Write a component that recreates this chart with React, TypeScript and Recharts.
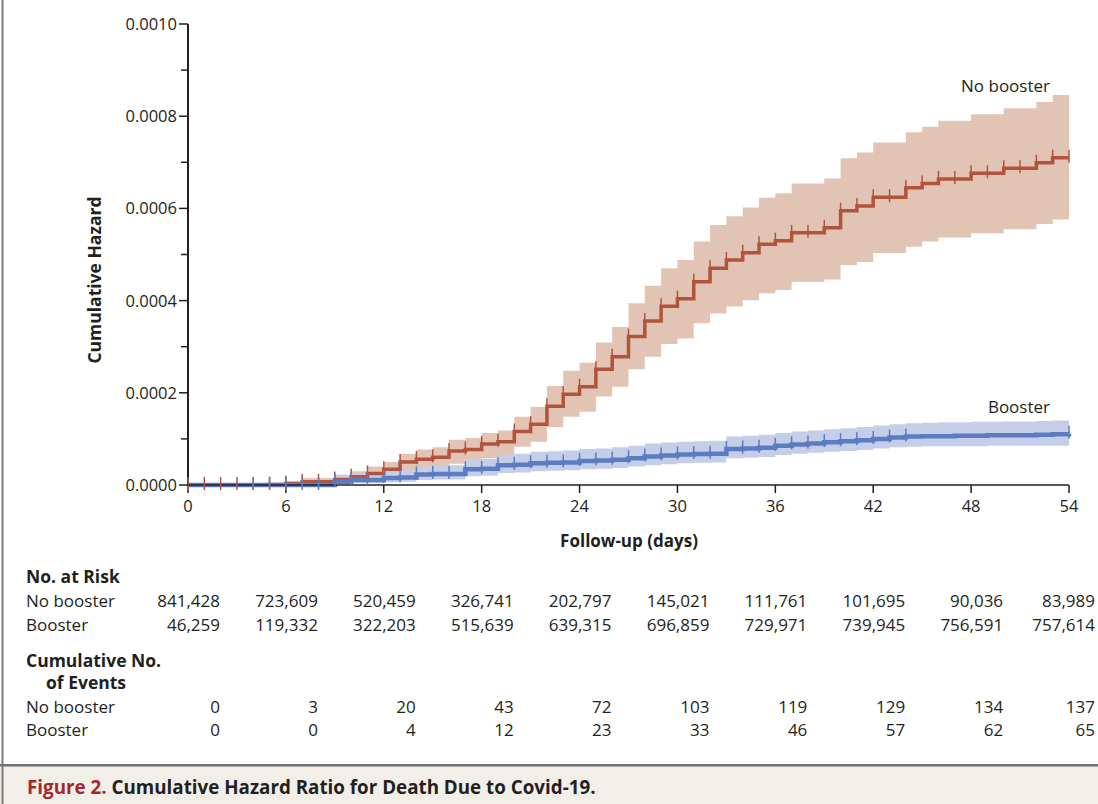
import React from "react";
import { ComposedChart, Area, Line, XAxis, YAxis } from "recharts";

// follow-up day of each step
const days = [
  0, 1, 2, 3, 4, 5, 6, 7, 8, 9, 10, 11, 12, 13, 14, 15, 16, 17, 18, 19, 20, 21, 22, 23, 24, 25, 26, 27,
  28, 29, 30, 31, 32, 33, 34, 35, 36, 37, 38, 39, 40, 41, 42, 43, 44, 45, 46, 47, 48, 49, 50, 51, 52, 53, 54,
];

const noBooster = [
  0, 0, 0, 0, 0, 0.000001, 0.000003, 0.000007, 0.000007, 0.000012, 0.000018, 0.000025, 0.000034, 0.00005,
  0.000056, 0.00006, 0.000074, 0.000077, 0.000089, 0.000094, 0.000116, 0.000132, 0.000171, 0.000197,
  0.000213, 0.000251, 0.000278, 0.000322, 0.000356, 0.000388, 0.000404, 0.000441, 0.00047, 0.000488,
  0.000504, 0.000522, 0.00053, 0.000547, 0.000547, 0.000558, 0.000595, 0.000605, 0.000624, 0.000624,
  0.000645, 0.000654, 0.000664, 0.000664, 0.000676, 0.000676, 0.000687, 0.000687, 0.000699, 0.00071, 0.00071,
];
const noBoosterLower = [
  0, 0, 0, 0, 0, 0, 0, 0, 0, 0.000002, 0.000005, 0.00001, 0.000016, 0.000028, 0.000032, 0.000035, 0.000046,
  0.000048, 0.000058, 0.000063, 0.000083, 0.000094, 0.000126, 0.000148, 0.000159, 0.000192, 0.000213,
  0.000251, 0.000278, 0.000306, 0.000318, 0.000351, 0.000372, 0.000387, 0.000401, 0.000416, 0.000423,
  0.000441, 0.000441, 0.000446, 0.000477, 0.000484, 0.000503, 0.000503, 0.000517, 0.000528, 0.000537,
  0.000537, 0.000546, 0.000546, 0.000555, 0.000555, 0.000566, 0.000576, 0.000576,
];
const noBoosterUpper = [
  0, 0, 0, 0, 0, 0.000003, 0.000008, 0.000015, 0.000015, 0.000022, 0.00003, 0.00004, 0.00005, 0.000068,
  0.000077, 0.000082, 0.000098, 0.000102, 0.000113, 0.000118, 0.000148, 0.000169, 0.000215, 0.000248,
  0.000265, 0.000309, 0.000343, 0.000394, 0.000432, 0.00047, 0.000488, 0.000528, 0.000564, 0.000583,
  0.000602, 0.000623, 0.000633, 0.000654, 0.000654, 0.000665, 0.000709, 0.000721, 0.000743, 0.000743,
  0.000765, 0.000777, 0.00079, 0.00079, 0.000804, 0.000804, 0.000817, 0.000817, 0.000831, 0.000846, 0.000846,
];

const booster = [
  0, 0, 0, 0, 0, 0, 0, 0, 0, 0.000007, 0.000011, 0.000011, 0.000015, 0.000016, 0.000023, 0.000024,
  0.000024, 0.000034, 0.000035, 0.000043, 0.000044, 0.000047, 0.000048, 0.000049, 0.000052, 0.000053,
  0.000055, 0.000058, 0.000062, 0.000064, 0.000066, 0.000067, 0.000068, 0.000078, 0.000079, 0.000081,
  0.000085, 0.000088, 0.00009, 0.000093, 0.000095, 0.000097, 0.0001, 0.000103, 0.000105, 0.000106,
  0.000106, 0.000107, 0.000107, 0.000108, 0.000108, 0.000108, 0.000109, 0.00011, 0.000111,
];
const boosterLower = [
  0, 0, 0, 0, 0, 0, 0, 0, 0, 0.000002, 0.000004, 0.000004, 0.000006, 0.000007, 0.000011, 0.000012,
  0.000012, 0.000019, 0.00002, 0.000026, 0.000027, 0.00003, 0.000031, 0.000032, 0.000034, 0.000035,
  0.000037, 0.00004, 0.000043, 0.000045, 0.000047, 0.000048, 0.000049, 0.000058, 0.000059, 0.000061,
  0.000065, 0.000068, 0.00007, 0.000072, 0.000074, 0.000076, 0.000079, 0.000082, 0.000083, 0.000084,
  0.000084, 0.000084, 0.000084, 0.000085, 0.000085, 0.000085, 0.000085, 0.000085, 0.000085,
];
const boosterUpper = [
  0, 0, 0, 0, 0, 0.000002, 0.000002, 0.000002, 0.000002, 0.000022, 0.000024, 0.000025, 0.00003, 0.000032,
  0.00004, 0.000042, 0.000043, 0.000055, 0.000057, 0.000066, 0.000068, 0.000072, 0.000073, 0.000075,
  0.000078, 0.000079, 0.000082, 0.000085, 0.00009, 0.000092, 0.000094, 0.000095, 0.000096, 0.000105,
  0.000107, 0.000109, 0.000113, 0.000116, 0.000118, 0.000121, 0.000123, 0.000126, 0.000129, 0.000132,
  0.000134, 0.000135, 0.000136, 0.000136, 0.000137, 0.000137, 0.000138, 0.000138, 0.000139, 0.00014, 0.00014,
];

// days where the booster curve shows a censoring mark
const boosterMarkDays = [
  4, 5, 6, 7, 8, 9, 10, 11, 12, 13, 14, 15, 16, 17, 18, 19, 20, 21, 22, 23, 24, 25, 26, 27, 28, 29, 30,
  31, 32, 33, 34, 35, 36, 37, 38, 39, 40, 41, 42, 43, 44, 54,
];

const xTicks = [0, 6, 12, 18, 24, 30, 36, 42, 48, 54];
const yTicks = [0, 0.0001, 0.0002, 0.0003, 0.0004, 0.0005, 0.0006, 0.0007, 0.0008, 0.0009, 0.001];

const atRiskNoBooster = ["841,428", "723,609", "520,459", "326,741", "202,797", "145,021", "111,761", "101,695", "90,036", "83,989"];
const atRiskBooster = ["46,259", "119,332", "322,203", "515,639", "639,315", "696,859", "729,971", "739,945", "756,591", "757,614"];
const eventsNoBooster = ["0", "3", "20", "43", "72", "103", "119", "129", "134", "137"];
const eventsBooster = ["0", "0", "4", "12", "23", "33", "46", "57", "62", "65"];

const INK = "#231f20";
const RED = "#b2533d";
const RED_BAND = "#e2c4b5";
const BLUE = "#5b7cc0";
const BLUE_BAND = "#c5cee9";
const FONT = "'Open Sans', sans-serif";

// plot geometry (kept in sync with chart margins below)
const PLOT_LEFT = 188;
const PLOT_RIGHT = 1069;
const dayX = (d: number) => PLOT_LEFT + (d / 54) * (PLOT_RIGHT - PLOT_LEFT);
// right edge of a table column, kept inside the page
const colRight = (d: number) => Math.min(dayX(d) + 32, 1095);

const data = days.map((d, i) => ({
  day: d,
  nb: noBooster[i],
  nbBand: [noBoosterLower[i], noBoosterUpper[i]],
  b: booster[i],
  bBand: [boosterLower[i], boosterUpper[i]],
}));

function YTick(props: any) {
  const { x, y, payload } = props;
  const axisX = x + 12;
  const major = Math.round(payload.value * 10000) % 2 === 0;
  return (
    <g>
      <line x1={axisX - (major ? 9 : 7)} x2={axisX} y1={y} y2={y} stroke={INK} strokeWidth={1.5} />
      {major && (
        <text x={axisX - 11} y={y} dy="0.36em" textAnchor="end" fontSize={16.5} fill={INK} fontFamily={FONT}>
          {payload.value.toFixed(4)}
        </text>
      )}
    </g>
  );
}

const censorMark = (color: string, markDays: number[] | null) => (props: any) => {
  const { cx, cy, payload, index } = props;
  if (markDays && !markDays.includes(payload.day)) return <g key={`m-${index}`} />;
  return (
    <line key={`m-${index}`} x1={cx} x2={cx} y1={cy - 8} y2={cy + 5} stroke={color} strokeWidth={1.5} />
  );
};

export default function App() {
  const colLabelX = 26;
  const rowText = { fontSize: 17, fill: INK, fontFamily: FONT } as const;

  return (
    <div
      style={{
        position: "absolute",
        left: 0,
        top: 0,
        width: 1098,
        height: 804,
        overflow: "hidden",
        background: "#fff",
      }}
    >
      <div style={{ position: "absolute", left: 0, top: 0 }}>
        <ComposedChart width={1098} height={560} data={data} margin={{ top: 24, right: 29, left: 88, bottom: 35 }}>
          <XAxis
            dataKey="day"
            type="number"
            domain={[0, 54]}
            ticks={xTicks}
            interval={0}
            tickSize={8}
            tickMargin={7}
            height={40}
            axisLine={{ stroke: INK, strokeWidth: 1.5 }}
            tickLine={{ stroke: INK, strokeWidth: 1.5 }}
            tick={{ fontSize: 16.5, fill: INK, fontFamily: FONT }}
          />
          <YAxis
            type="number"
            domain={[0, 0.001]}
            ticks={yTicks}
            interval={0}
            width={100}
            tickSize={8}
            tickMargin={4}
            tickLine={false}
            axisLine={{ stroke: INK, strokeWidth: 2 }}
            tick={<YTick />}
          />
          <Area
            type="stepAfter"
            dataKey="nbBand"
            stroke="none"
            fill={RED_BAND}
            fillOpacity={1}
            isAnimationActive={false}
          />
          <Area
            type="stepAfter"
            dataKey="bBand"
            stroke="none"
            fill={BLUE_BAND}
            fillOpacity={1}
            isAnimationActive={false}
          />
          <Line
            type="stepAfter"
            dataKey="nb"
            stroke={RED}
            strokeWidth={3.5}
            dot={censorMark(RED, null)}
            activeDot={false}
            isAnimationActive={false}
          />
          <Line
            type="stepAfter"
            dataKey="b"
            stroke={BLUE}
            strokeWidth={4.5}
            dot={censorMark(BLUE, boosterMarkDays)}
            activeDot={false}
            isAnimationActive={false}
          />
        </ComposedChart>
      </div>

      <svg width={1098} height={804} style={{ position: "absolute", left: 0, top: 0, pointerEvents: "none" }}>
        {/* frame and caption band */}
        <rect x={0} y={766} width={1098} height={38} fill="#f2efe9" />
        <rect x={0} y={764} width={1098} height={2.5} fill="#707070" />
        <rect x={1.5} y={0} width={2} height={804} fill="#7a7a7a" />

        <text
          transform="translate(101, 280) rotate(-90)"
          textAnchor="middle"
          fontSize={17.5}
          fontWeight={700}
          fill={INK}
          fontFamily={FONT}
        >
          Cumulative Hazard
        </text>
        <text x={629} y={547} textAnchor="middle" fontSize={17} fontWeight={700} fill={INK} fontFamily={FONT}>
          Follow-up (days)
        </text>

        <text x={1050} y={92} textAnchor="end" {...rowText}>
          No booster
        </text>
        <text x={1050} y={413} textAnchor="end" {...rowText}>
          Booster
        </text>

        <text x={colLabelX} y={583} fontSize={17.5} fontWeight={700} fill={INK} fontFamily={FONT}>
          No. at Risk
        </text>
        <text x={colLabelX} y={607} {...rowText}>
          No booster
        </text>
        <text x={colLabelX} y={631} {...rowText}>
          Booster
        </text>
        {xTicks.map((d, i) => (
          <g key={`r-${d}`}>
            <text x={colRight(d)} y={607} textAnchor="end" {...rowText}>
              {atRiskNoBooster[i]}
            </text>
            <text x={colRight(d)} y={631} textAnchor="end" {...rowText}>
              {atRiskBooster[i]}
            </text>
          </g>
        ))}

        <text x={colLabelX} y={667} fontSize={17.5} fontWeight={700} fill={INK} fontFamily={FONT}>
          Cumulative No.
        </text>
        <text x={46} y={689} fontSize={17.5} fontWeight={700} fill={INK} fontFamily={FONT}>
          of Events
        </text>
        <text x={colLabelX} y={713} {...rowText}>
          No booster
        </text>
        <text x={colLabelX} y={736} {...rowText}>
          Booster
        </text>
        {xTicks.map((d, i) => (
          <g key={`e-${d}`}>
            <text x={colRight(d)} y={713} textAnchor="end" {...rowText}>
              {eventsNoBooster[i]}
            </text>
            <text x={colRight(d)} y={736} textAnchor="end" {...rowText}>
              {eventsBooster[i]}
            </text>
          </g>
        ))}

        <text x={27} y={794} fontSize={18.8} fontWeight={700} fontFamily={FONT} fill={INK}>
          <tspan fill="#a3292f">Figure 2.</tspan> Cumulative Hazard Ratio for Death Due to Covid-19.
        </text>
      </svg>
    </div>
  );
}
